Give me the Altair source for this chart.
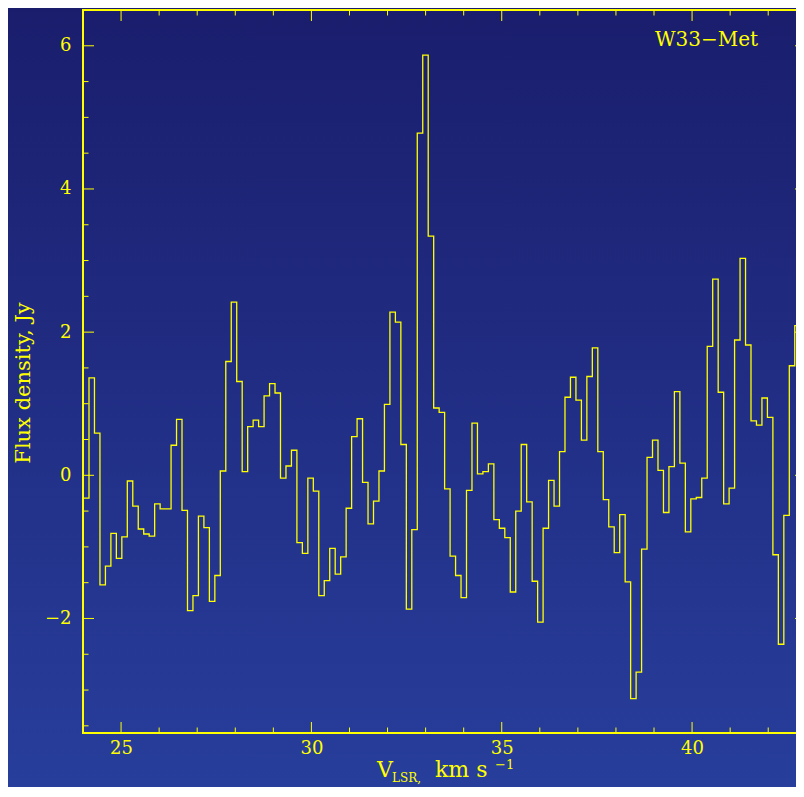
import altair as alt
import pandas as pd
import numpy as np

# ---------------- data ----------------
FLUX = [
    -0.32, 1.36, 0.59, -1.53, -1.27, -0.81, -1.16, -0.86, -0.08, -0.43,
    -0.75, -0.82, -0.85, -0.40, -0.47, -0.47, 0.42, 0.78, -0.49, -1.89,
    -1.68, -0.57, -0.73, -1.76, -1.40, 0.06, 1.59, 2.42, 1.31, 0.05,
    0.68, 0.77, 0.68, 1.11, 1.28, 1.15, -0.04, 0.13, 0.35, -0.94,
    -1.09, -0.04, -0.22, -1.68, -1.47, -1.02, -1.38, -1.14, -0.46, 0.54,
    0.79, -0.10, -0.68, -0.36, 0.06, 0.99, 2.28, 2.14, 0.43, -1.87,
    -0.76, 4.78, 5.87, 3.34, 0.94, 0.88, -0.19, -1.13, -1.40, -1.71,
    -0.21, 0.73, 0.02, 0.05, 0.16, -0.62, -0.74, -0.87, -1.63, -0.50,
    0.43, -0.37, -1.48, -2.05, -0.74, -0.07, -0.43, 0.33, 1.09, 1.37,
    1.05, 0.49, 1.38, 1.78, 0.33, -0.34, -0.72, -1.08, -0.55, -1.49,
    -3.12, -2.75, -1.03, 0.25, 0.49, 0.07, -0.52, 0.12, 1.17, 0.17,
    -0.79, -0.33, -0.31, -0.04, 1.80, 2.74, 1.16, -0.40, -0.18, 1.89,
    3.03, 1.82, 0.76, 0.70, 1.08, 0.81, -1.11, -2.36, -0.56, 1.53,
    2.09, 1.39,
]
V_START = 24.014      # km/s, left edge of first channel
DV = 0.14372          # km/s, channel width

X_MAJOR = [25, 30, 35, 40]
X_MINOR = [26, 27, 28, 29, 31, 32, 33, 34, 36, 37, 38, 39, 41, 42]
Y_MAJOR = [-2, 0, 2, 4, 6]
Y_MINOR = [-3.5, -3, -2.5, -1.5, -1, -0.5, 0.5, 1, 1.5, 2.5, 3, 3.5, 4.5, 5, 5.5]
X_DOMAIN = [24, 42.73]     # visible part of the 24..43 frame
Y_DOMAIN = [-3.6, 6.5]

Y_TITLE = "Flux density, Jy"
X_TITLE_MAIN = "V"
X_TITLE_SUB = "LSR,"
X_TITLE_UNIT = "km s"
X_TITLE_SUP = "\u22121"
SOURCE = "W33\u2212Met"

# ---------------- styling ----------------
W, H = 713, 723
RIGHT = W + 10          # right frame edge (just outside the visible area)
YEL = "#ffff00"
FONT = "DejaVu Serif"
MAJ, MIN = 11, 5.5

vel = V_START + DV * np.arange(len(FLUX) + 1)
spec_df = pd.DataFrame({"v": vel, "flux": FLUX + [FLUX[-1]]})

xs = alt.Scale(domain=X_DOMAIN, nice=False, zero=False)
ys = alt.Scale(domain=Y_DOMAIN, nice=False, zero=False)

x_axis = alt.Axis(values=X_MAJOR, ticks=False, domain=False, grid=False,
                  labelFont=FONT, labelFontSize=18, labelColor=YEL,
                  labelPadding=20, labelBaseline="alphabetic", labelFlush=False,
                  title=None, zindex=1, format="d")
y_axis = alt.Axis(values=Y_MAJOR, ticks=False, domain=False, grid=False,
                  labelFont=FONT, labelFontSize=18, labelColor=YEL,
                  labelPadding=12, labelAlign="right", labelBaseline="middle",
                  labelFlush=False, title=None, zindex=1, format="d")

one = pd.DataFrame({"a": [0]})

bg = alt.Chart(one).mark_rect(
    fill=alt.LinearGradient(
        gradient="linear",
        stops=[alt.GradientStop(color="#1a1d6c", offset=0),
               alt.GradientStop(color="#283f9d", offset=1)],
        x1=0, x2=0, y1=0, y2=1),
    strokeWidth=0,
).encode(x=alt.value(-90), x2=alt.value(RIGHT + 20), y=alt.value(-10), y2=alt.value(H + 80))

line = alt.Chart(spec_df).mark_line(
    interpolate="step-after", color=YEL, strokeWidth=1.3, clip=True
).encode(
    x=alt.X("v:Q", scale=xs, axis=x_axis),
    y=alt.Y("flux:Q", scale=ys, axis=y_axis),
)


def xticks(vals, length):
    df = pd.DataFrame({"t": vals})
    b = alt.Chart(df).mark_rule(color=YEL, strokeWidth=1)
    return [
        b.encode(x=alt.X("t:Q", scale=xs, axis=x_axis), y=alt.value(H), y2=alt.value(H - length)),
        b.encode(x=alt.X("t:Q", scale=xs, axis=x_axis), y=alt.value(0), y2=alt.value(length)),
    ]


def yticks(vals, length):
    df = pd.DataFrame({"t": vals})
    b = alt.Chart(df).mark_rule(color=YEL, strokeWidth=1)
    return [
        b.encode(y=alt.Y("t:Q", scale=ys, axis=y_axis), x=alt.value(0), x2=alt.value(length)),
        b.encode(y=alt.Y("t:Q", scale=ys, axis=y_axis), x=alt.value(RIGHT), x2=alt.value(RIGHT - length)),
    ]


frame = alt.Chart(one).mark_rect(filled=False, color=YEL, strokeWidth=2).encode(
    x=alt.value(0), x2=alt.value(RIGHT), y=alt.value(0), y2=alt.value(H))


def txt(s, x, y, size, **kw):
    return alt.Chart(one).mark_text(
        text=s, font=FONT, fontSize=size, color=YEL, baseline="alphabetic", **kw
    ).encode(x=alt.value(x), y=alt.value(y))


texts = [
    txt(SOURCE, 572, 36, 20, align="left"),
    txt(Y_TITLE, -53, 373, 21, align="center", angle=270),
    txt(X_TITLE_MAIN, 294, 767, 22, align="left"),
    txt(X_TITLE_SUB, 309, 772, 12, align="left"),
    txt(X_TITLE_UNIT, 352, 767, 22, align="left"),
    txt(X_TITLE_SUP, 412, 759, 13, align="left"),
]

layers = [bg, line] + xticks(X_MAJOR, MAJ) + xticks(X_MINOR, MIN) \
    + yticks(Y_MAJOR, MAJ) + yticks(Y_MINOR, MIN) + [frame] + texts

chart = alt.layer(*layers).properties(
    width=W, height=H,
    autosize=alt.AutoSizeParams(type="none"),
    padding={"left": 75, "top": 2, "right": 0, "bottom": 54},
).configure_view(stroke=None).configure(background="#1a1d6c")

chart.save("out.html", embed_options={"renderer": "svg", "actions": False})
